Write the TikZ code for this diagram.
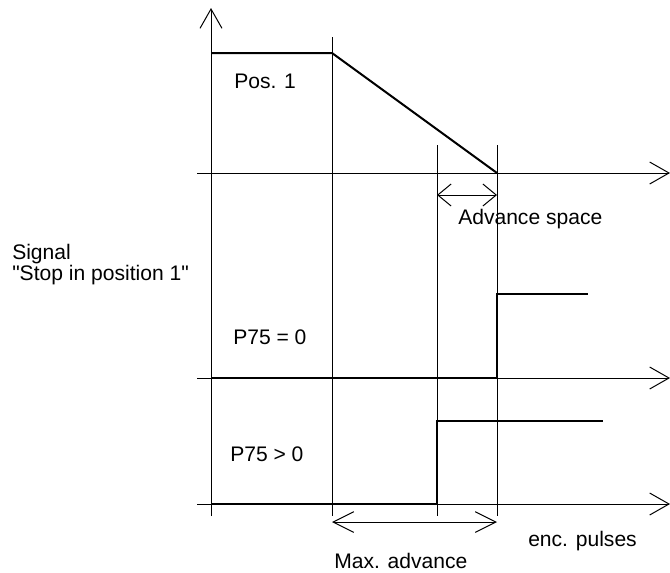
\documentclass[tikz,border=0pt]{standalone}
\usepackage{fontspec}
\setmainfont{Liberation Sans}[Ligatures=TeXOff]
\usetikzlibrary{arrows.meta,positioning}

\begin{document}
\begin{tikzpicture}[x=0.75pt,y=-0.75pt]
\tikzset{font={\fontsize{15.8}{13.5}\selectfont}}
\tikzset{axis/.style={line width=0.75pt,-{Straight Barb[length=14.5pt,width=16.5pt]}},
 timeline/.style={line width=0.75pt},
 signal/.style={line width=1.5pt},
 dimbig/.style={line width=0.75pt,{Straight Barb[length=15.5pt,width=15.5pt]}-{Straight Barb[length=15.5pt,width=15.5pt]}},
 dimsmall/.style={line width=0.75pt,{Straight Barb[length=10pt,width=16.5pt]}-{Straight Barb[length=10pt,width=16.5pt]}},
 lbl/.style={inner sep=0pt,anchor=base west}}
\useasboundingbox (0,0) rectangle (670,572);

%Axes
\draw[axis] (211,516) -- (211,8);
\foreach \y in {173,378,504}
\draw[axis] (197,\y) -- (670,\y);

%Time marks
\draw[timeline] (332,37) -- (332,516);
\foreach \x in {437,497}
\draw[timeline] (\x,145) -- (\x,516);

%Signals
\draw[signal] (211,53) -- (332,53) -- (497,173);
\draw[signal] (211,378) -- (497,378) -- (497,294) -- (588,294);
\draw[signal] (211,504) -- (437,504) -- (437,421) -- (603,421);

%Spaces
\coordinate (as1) at (437,195);
\coordinate (as2) at (497,195);
\coordinate (ma1) at (332,522);
\coordinate (ma2) at (497,522);
\draw[dimsmall] (as1) -- (as2);
\draw[dimbig] (ma1) -- (ma2);

%Labels
\node[lbl] (pos) at (234,88) {Pos. 1};
\node[lbl] (advspace) at (458,224) {Advance space};
\node[inner sep=0pt,anchor=north west,align=left] (signal) at (12,244) {Signal\\"Stop in position 1"};
\node[lbl] (peq) at (233,344) {P75 = 0};
\node[lbl] (pgt) at (230,461) {P75 > 0};
\node[lbl] (enc) at (528,546) {enc. pulses};
\node[lbl] (maxadv) at (334,568) {Max. advance};

\end{tikzpicture}
\end{document}
